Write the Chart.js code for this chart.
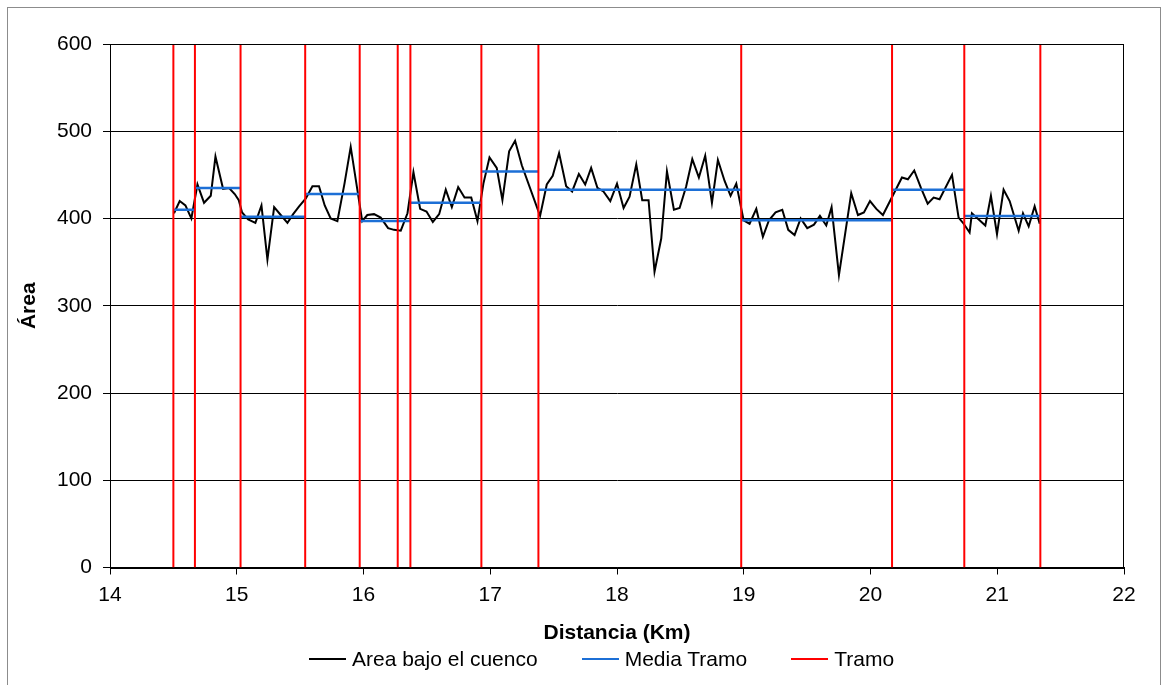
<!DOCTYPE html>
<html>
<head>
<meta charset="utf-8">
<script src="https://cdn.jsdelivr.net/npm/chart.js@4.4.1/dist/chart.umd.min.js"></script>
<style>
  body { margin: 0; background: #fff; font-family: "Liberation Sans", Arial, sans-serif; }
  #wrap { position: relative; width: 1164px; height: 685px; overflow: hidden; }
  #frame { position: absolute; left: 7px; top: 7px; width: 1152px; height: 700px; border: 1px solid #8c8c8c; }
  canvas { position: absolute; left: 0; top: 0; }
  #legend { position: absolute; left: 309px; top: 647px; display: flex; align-items: center; font-size: 21px; color: #000; white-space: nowrap; }
  #legend .item { display: flex; align-items: center; margin-right: 44px; }
  #legend .swatch { width: 37px; height: 2px; margin-right: 6px; }
</style>
</head>
<body>
<div id="wrap">
  <div id="frame"></div>
  <canvas id="line-canvas" width="1164" height="685"></canvas>
  <div id="legend"></div>
</div>
<script>
// Area bajo el cuenco (black line)
var distKm = [14.505, 14.55, 14.595, 14.642, 14.69, 14.742, 14.795, 14.832, 14.892, 14.94, 14.984, 15.016, 15.042,
  15.09, 15.147, 15.195, 15.242, 15.295, 15.347, 15.4, 15.445, 15.492, 15.545, 15.597, 15.649, 15.694, 15.741,
  15.794, 15.85, 15.899, 15.99, 16.03, 16.083, 16.136, 16.194, 16.241, 16.294, 16.347, 16.394, 16.447, 16.497,
  16.547, 16.597, 16.649, 16.697, 16.747, 16.797, 16.85, 16.899, 16.946, 16.994, 17.051, 17.096, 17.149, 17.196,
  17.249, 17.393, 17.446, 17.493, 17.543, 17.599, 17.646, 17.699, 17.749, 17.796, 17.846, 17.893, 17.947, 18.0,
  18.052, 18.099, 18.152, 18.199, 18.249, 18.296, 18.349, 18.394, 18.449, 18.494, 18.546, 18.594, 18.646, 18.696,
  18.749, 18.796, 18.849, 18.896, 18.941, 18.999, 19.046, 19.099, 19.151, 19.199, 19.251, 19.304, 19.351, 19.401,
  19.449, 19.501, 19.554, 19.601, 19.651, 19.693, 19.751, 19.848, 19.901, 19.948, 19.996, 20.046, 20.098, 20.248,
  20.295, 20.345, 20.398, 20.451, 20.498, 20.545, 20.643, 20.695, 20.735, 20.782, 20.8, 20.906, 20.95, 20.998,
  21.05, 21.098, 21.169, 21.203, 21.248, 21.295, 21.335];
var areaVals = [406, 420, 415, 400, 439, 418, 426, 471, 434, 435, 428, 421, 407,
  399, 395, 415, 353, 413, 404, 395, 405, 414, 423, 437, 437, 415, 400,
  397, 440, 482, 397, 404, 405, 401, 389, 387, 386, 406, 453, 411, 408,
  396, 405, 433, 413, 436, 424, 424, 397, 440, 470, 458, 421, 477, 489,
  461, 403, 439, 449, 475, 437, 431, 451, 439, 458, 435, 431, 420, 440,
  412, 425, 462, 421, 421, 339, 377, 454, 410, 412, 437, 468, 447, 472,
  418, 467, 443, 426, 440, 398, 394, 411, 379, 398, 407, 410, 387, 381,
  400, 389, 393, 403, 392, 413, 335, 429, 404, 407, 420, 411, 404, 447,
  445, 455, 435, 417, 424, 422, 450, 401, 394, 384, 406, 392, 426, 382,
  433, 420, 386, 406, 391, 414, 394];

// Media Tramo (blue steps)
var mediaStart = [14.5, 14.67, 15.03, 15.54, 15.97, 16.37, 16.93, 17.38, 18.98, 20.17, 20.74];
var mediaEnd   = [14.67, 15.03, 15.54, 15.97, 16.37, 16.93, 17.38, 18.98, 20.17, 20.74, 21.34];
var mediaVals  = [410, 435, 402, 428, 397, 418, 454, 433, 398, 433, 403];

// Tramo (red vertical lines)
var tramoKm = [14.5, 14.67, 15.03, 15.54, 15.97, 16.27, 16.37, 16.93, 17.38, 18.98, 20.17, 20.74, 21.34];

var yTicks = [0, 100, 200, 300, 400, 500, 600];
var xTicks = [14, 15, 16, 17, 18, 19, 20, 21, 22];

//-----------------------------
var areaData = distKm.map(function(d, i) { return { x: d, y: areaVals[i] }; });

var mediaData = [];
mediaVals.forEach(function(v, i) {
  mediaData.push({ x: mediaStart[i], y: v });
  mediaData.push({ x: mediaEnd[i], y: v });
  mediaData.push({ x: mediaEnd[i], y: null });
});

var tramoData = [];
tramoKm.forEach(function(k) {
  tramoData.push({ x: k, y: yTicks[0] });
  tramoData.push({ x: k, y: yTicks[yTicks.length - 1] });
  tramoData.push({ x: k, y: null });
});

var FONT = "'Liberation Sans', Arial, sans-serif";

var frame = {
  id: "frame",
  afterDatasetsDraw: function(chart) {
    var a = chart.chartArea, c = chart.ctx;
    c.save();
    c.strokeStyle = "#000";
    c.lineWidth = 1;
    c.strokeRect(Math.round(a.left) + 0.5, Math.round(a.top) + 0.5, Math.round(a.right - a.left) - 1, Math.round(a.bottom - a.top));
    c.restore();
  }
};

var datasets = [
  { label: "Area bajo el cuenco", data: areaData, borderColor: "#000000", backgroundColor: "#000000",
    borderWidth: 2, pointRadius: 0, showLine: true, tension: 0, order: 2 },
  { label: "Media Tramo", data: mediaData, borderColor: "#1c6fd6", backgroundColor: "#1c6fd6",
    borderWidth: 2.5, pointRadius: 0, showLine: true, spanGaps: false, order: 1 },
  { label: "Tramo", data: tramoData, borderColor: "#ff0000", backgroundColor: "#ff0000",
    borderWidth: 2, pointRadius: 0, showLine: true, spanGaps: false, order: 0 }
];

var ctx = document.getElementById("line-canvas");
var chart = new Chart(ctx, {
  type: "scatter",
  data: { datasets: datasets },
  options: {
    responsive: false,
    animation: false,
    events: [],
    layout: { padding: { top: 44, right: 40, left: 0, bottom: 35 } },
    plugins: { legend: { display: false }, tooltip: { enabled: false } },
    scales: {
      x: {
        type: "linear",
        min: xTicks[0], max: xTicks[xTicks.length - 1],
        afterBuildTicks: function(s) { s.ticks = xTicks.map(function(v) { return { value: v }; }); },
        afterFit: function(s) { s.height = 82.5; },
        grid: { drawOnChartArea: false, drawTicks: true, tickLength: 7, color: "#000" },
        border: { color: "#000", width: 1 },
        ticks: { color: "#000", padding: 8, maxRotation: 0, font: { family: FONT, size: 21 } },
        title: { display: true, text: "Distancia (Km)", color: "#000", padding: { top: 0, bottom: 4 },
          font: { family: FONT, size: 21, weight: "bold" } }
      },
      y: {
        min: yTicks[0], max: yTicks[yTicks.length - 1],
        afterBuildTicks: function(s) { s.ticks = yTicks.map(function(v) { return { value: v }; }); },
        afterFit: function(s) { s.width = 110; },
        grid: { color: "#000", tickLength: 7, drawTicks: true },
        border: { color: "#000", width: 1 },
        ticks: { color: "#000", padding: 11, font: { family: FONT, size: 21 } },
        title: { display: true, text: "Área", color: "#000", padding: { top: 17, bottom: 0 },
          font: { family: FONT, size: 21, weight: "bold" } }
      }
    }
  },
  plugins: [frame]
});

// legend below the axis title
var legend = document.getElementById("legend");
datasets.forEach(function(ds) {
  var item = document.createElement("div");
  item.className = "item";
  var sw = document.createElement("span");
  sw.className = "swatch";
  sw.style.background = ds.borderColor;
  var tx = document.createElement("span");
  tx.textContent = ds.label;
  item.appendChild(sw);
  item.appendChild(tx);
  legend.appendChild(item);
});
</script>
</body>
</html>
